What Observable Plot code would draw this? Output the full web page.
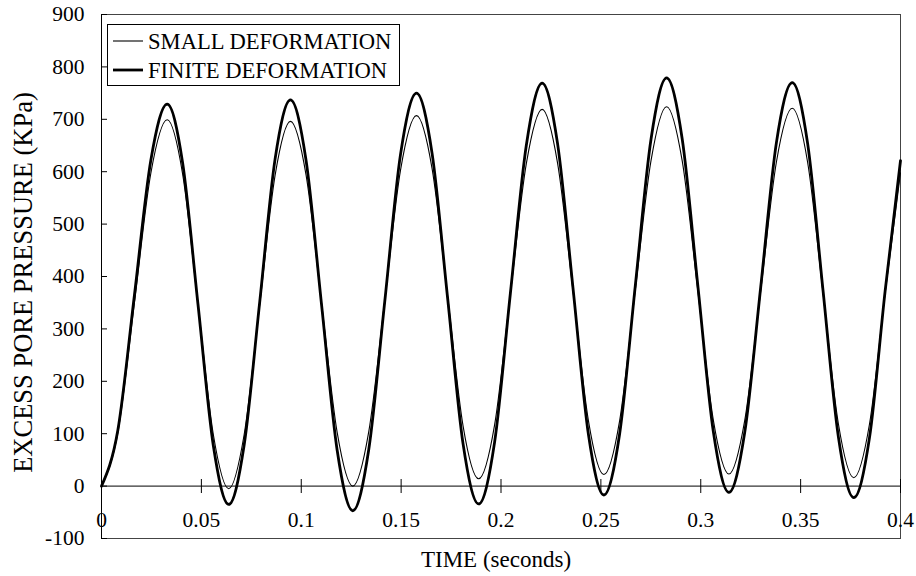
<!DOCTYPE html>
<html><head><meta charset="utf-8">
<script src="https://cdn.jsdelivr.net/npm/d3@7"></script>
<script src="https://cdn.jsdelivr.net/npm/@observablehq/plot@0.6"></script>
<style>
body{margin:0;background:#fff;}
#wrap{position:relative;width:916px;height:576px;font-family:"Liberation Serif",serif;}
#wrap svg text{font-family:"Liberation Serif",serif;}
</style></head><body><div id="wrap"></div>
<script>
// time (seconds)
const time = [
  0, 0.0082, 0.0165, 0.0247, 0.0329,
  0.0406, 0.0483, 0.0560, 0.0637,
  0.0714, 0.0792, 0.0869, 0.0946,
  0.1024, 0.1102, 0.1180, 0.1258,
  0.1338, 0.1418, 0.1497, 0.1577,
  0.1655, 0.1733, 0.1810, 0.1888,
  0.1968, 0.2047, 0.2127, 0.2206,
  0.2283, 0.2361, 0.2438, 0.2515,
  0.2594, 0.2672, 0.2751, 0.2829,
  0.2907, 0.2985, 0.3063, 0.3141,
  0.3220, 0.3300, 0.3379, 0.3458,
  0.3535, 0.3612, 0.3689, 0.3766,
  0.3845, 0.3923, 0.4000
];
// excess pore pressure (kPa), small deformation
const smallDeformation = [
  0, 102, 350, 597, 699,
  596, 347, 98, -5,
  98, 346, 593, 696,
  594, 348, 102, 0,
  104, 354, 603, 707,
  606, 361, 115, 14,
  117, 367, 616, 719,
  617, 371, 124, 22,
  125, 373, 621, 724,
  621, 374, 126, 23,
  125, 372, 619, 721,
  618, 369, 119, 16,
  119, 368, 598
];
// excess pore pressure (kPa), finite deformation
const finiteDeformation = [
  0, 107, 365, 622, 729,
  617, 347, 77, -35,
  78, 351, 624, 737,
  622, 345, 68, -47,
  70, 352, 633, 750,
  635, 358, 81, -34,
  84, 368, 651, 769,
  654, 376, 98, -17,
  100, 381, 662, 779,
  663, 384, 104, -12,
  102, 379, 656, 770,
  654, 374, 94, -22,
  93, 372, 621
];
const seriesNames = ["SMALL DEFORMATION", "FINITE DEFORMATION"];
const xTicks = [0, 0.05, 0.1, 0.15, 0.2, 0.25, 0.3, 0.35, 0.4];
const xTickLabels = ["0", "0.05", "0.1", "0.15", "0.2", "0.25", "0.3", "0.35", "0.4"];
const yTicks = [-100, 0, 100, 200, 300, 400, 500, 600, 700, 800, 900];
const yTickLabels = ["-100", "0", "100", "200", "300", "400", "500", "600", "700", "800", "900"];
const xTitle = "TIME (seconds)";
const yTitle = "EXCESS PORE PRESSURE (KPa)";

const smallRows = time.map((t, i) => ({t, v: smallDeformation[i]}));
const finiteRows = time.map((t, i) => ({t, v: finiteDeformation[i]}));
const serif = "Liberation Serif";

const chart = Plot.plot({
  width: 916, height: 576,
  marginLeft: 101, marginRight: 16, marginTop: 14, marginBottom: 38,
  style: {fontFamily: serif, fontSize: "21px", color: "#000", background: "#fff", overflow: "visible"},
  x: {domain: [0, 0.4]},
  y: {domain: [-100, 900]},
  marks: [
    Plot.frame({stroke: "#444"}),
    Plot.ruleY([0], {stroke: "#000"}),
    Plot.ruleX([0], {stroke: "#000"}),
    Plot.axisY(yTicks, {tickSize: 6, dx: 6, fill: "none", label: null}),
    Plot.axisY(yTicks, {tickSize: 0, tickPadding: 17, label: null, fontFamily: serif, fontSize: 21.5, fontVariant: "normal", tickFormat: d => yTickLabels[yTicks.indexOf(d)]}),
    Plot.axisX(xTicks, {tickSize: 14, dy: -59, fill: "none", label: null}),
    Plot.axisX(xTicks, {tickSize: 0, tickPadding: 0, dy: -27, label: null, fontFamily: serif, fontSize: 21.5, fontVariant: "normal", tickFormat: d => xTickLabels[xTicks.indexOf(d)]}),
    Plot.line(smallRows, {x: "t", y: "v", curve: "monotone-x", stroke: "#000", strokeWidth: 1.1}),
    Plot.line(finiteRows, {x: "t", y: "v", curve: "monotone-x", stroke: "#000", strokeWidth: 2.8}),
    Plot.text([xTitle], {frameAnchor: "bottom", textAnchor: "middle", dy: 21, dx: -5, lineAnchor: "middle", fontFamily: serif, fontSize: 23, fill: "#000"}),
    Plot.text([yTitle], {frameAnchor: "left", textAnchor: "middle", rotate: -90, dx: -78, dy: 6, lineAnchor: "middle", fontFamily: serif, fontSize: 26.5, fill: "#000"})
  ]
});
const wrap = document.getElementById("wrap");
wrap.appendChild(chart);

// in-plot legend
const leg = d3.select(wrap).append("svg")
  .attr("width", 916).attr("height", 576)
  .style("position", "absolute").style("left", "0px").style("top", "0px");
leg.append("rect").attr("x", 107.5).attr("y", 24.5).attr("width", 292).attr("height", 61)
  .attr("fill", "#fff").attr("stroke", "#000");
const legWidths = [1.1, 2.8];
seriesNames.forEach((name, i) => {
  const y = 41 + i * 29;
  leg.append("line").attr("x1", 113).attr("x2", 143).attr("y1", y).attr("y2", y)
    .attr("stroke", "#000").attr("stroke-width", legWidths[i]);
  leg.append("text").attr("x", 148).attr("y", y + 7.5)
    .attr("font-family", serif).attr("font-size", 22.6).attr("fill", "#000").text(name);
});
</script></body></html>
